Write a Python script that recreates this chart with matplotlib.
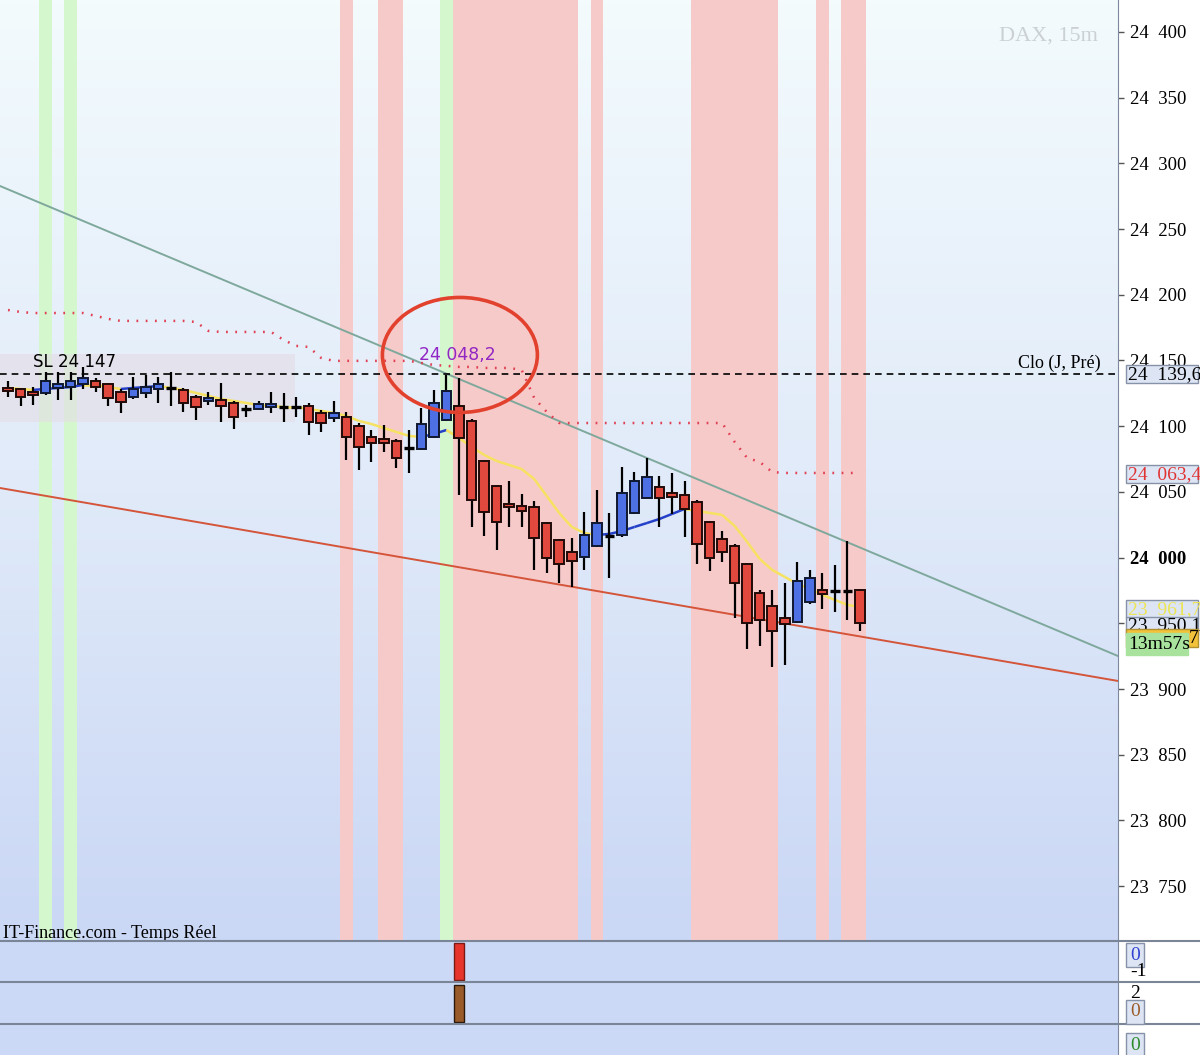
#DAX 15m candles with trend lines, signal bands and small indicator panels
import numpy as np
import matplotlib.pyplot as plt
from matplotlib.patches import Ellipse, Rectangle
from matplotlib.collections import LineCollection
from matplotlib.colors import LinearSegmentedColormap
from matplotlib.transforms import blended_transform_factory

#candle values (15m bars)
opens = [24129, 24128, 24126, 24125, 24129, 24130, 24132, 24134, 24132, 24126,
         24122, 24125, 24128, 24129, 24127.6, 24122, 24119, 24120, 24117.7, 24113,
         24113, 24114.6, 24114.6, 24114.6, 24115.4, 24110, 24106, 24107, 24100, 24092,
         24090, 24089, 24083.4, 24083, 24092, 24104.7, 24115.4, 24104, 24073.5, 24054.5,
         24041, 24039, 24038.5, 24026, 24013.4, 24004, 24000.5, 24009, 24016.4, 24017,
         24034, 24045.4, 24053.7, 24049, 24047.6, 24042.3, 24027, 24014, 24009, 23995,
         23973, 23963, 23954, 23951, 23966, 23975.5, 23974.7, 23974.7, 23975.5]
highs = [24134, 24129, 24130, 24141, 24141, 24141, 24145, 24137, 24133, 24128,
         24137.5, 24139, 24137.5, 24141, 24129, 24124, 24126, 24133, 24119, 24116,
         24119, 24126, 24125, 24122, 24117.7, 24112, 24119, 24111, 24102.4, 24097,
         24101, 24090, 24097, 24114, 24127.6, 24139, 24136.7, 24105.5, 24074, 24055,
         24058, 24048.4, 24043, 24027, 24014, 24014.6, 24034.7, 24051.4, 24034, 24068.8,
         24065, 24076, 24062, 24064.4, 24058.3, 24044, 24028, 24020, 24010, 23996,
         23975, 23975.5, 23981, 23997, 23990.8, 23988, 23994.5, 24012.8, 23976]
lows = [24122, 24115, 24116, 24124, 24120, 24120, 24128, 24126, 24115, 24110,
        24121, 24121.5, 24117.7, 24115, 24111, 24104.7, 24116, 24103, 24098, 24107,
        24112, 24110, 24103, 24107, 24093, 24095.6, 24103, 24074, 24066.7, 24073,
        24080, 24068, 24064, 24082, 24091, 24104, 24048, 24023, 24016.4, 24006,
        24023, 24023, 23990.6, 23988, 23980.7, 23977.5, 23990.6, 24008, 23984.5, 24016,
        24033, 24045, 24023, 24033, 24015.7, 23995, 23989.8, 23996.7, 23954, 23930.5,
        23933, 23917, 23918, 23950, 23964.7, 23961, 23958.6, 23952.5, 23944]
closes = [24127, 24122, 24124, 24134, 24132, 24134, 24137, 24130, 24121.5, 24118.5,
          24128, 24130, 24132, 24129, 24117.7, 24114.6, 24121.5, 24115.4, 24107, 24113,
          24117, 24117, 24114.6, 24114.6, 24103, 24102.4, 24110, 24092, 24084, 24087,
          24087, 24076, 24083.4, 24101.7, 24117.7, 24127, 24091, 24044, 24034.7, 24027,
          24038.5, 24035.5, 24015, 24000, 23995, 23997.5, 24017, 24026.3, 24016.4, 24049,
          24058.3, 24061.4, 24045.4, 24046, 24037, 24010.4, 24000, 24004, 23981, 23950,
          23952.5, 23944, 23949.5, 23982, 23984.5, 23972, 23974.7, 23974.7, 23950.1]

#moving average (yellow when falling, blue when rising)
ma = [24129.1, 24128.3, 24127.6, 24128.3, 24129.1, 24129.8, 24131.4, 24131.4, 24129.8, 24128.3,
      24129.1, 24129.8, 24130.6, 24129.1, 24127.6, 24125.3, 24123.0, 24120.7, 24119.2, 24117.7,
      24116.1, 24115.4, 24114.6, 24114.6, 24113.1, 24111.6, 24110.1, 24107.8, 24104.0, 24101.7,
      24098.6, 24095.6, 24092.6, 24091.8, 24094.1, 24097.1, 24091.0, 24084.2, 24078.1, 24073.5,
      24070.5, 24067.4, 24059.8, 24046.9, 24033.9, 24023.3, 24018.7, 24017.2, 24018.0, 24020.2,
      24023.3, 24026.3, 24029.4, 24033.2, 24037.0, 24035.5, 24034.0, 24032.5, 24024.1, 24011.9,
      23999.0, 23990.6, 23985.3, 23980.0, 23976.2, 23971.6, 23967.8, 23964.0, 23962.5]

#trailing stop (red dotted)
stop = [24188.4, 24186.9, 24186.1, 24186.1, 24186.1, 24186.1, 24186.1, 24183.9, 24181.6, 24180.1,
        24180.1, 24180.1, 24180.1, 24180.1, 24180.1, 24179.3, 24172.5, 24171.7, 24171.7, 24171.7,
        24171.7, 24171.7, 24165.6, 24161.1, 24160.3, 24151.9, 24149.7, 24149.7, 24149.7, 24149.7,
        24149.7, 24149.7, 24149.7, 24148.1, 24146.6, 24145.9, 24145.1, 24145.1, 24144.3, 24144.3,
        24144.3, 24142.8, 24121.5, 24110.8, 24102.4, 24102.4, 24102.4, 24102.4, 24102.4, 24102.4,
        24102.4, 24102.4, 24102.4, 24102.4, 24102.4, 24102.4, 24102.4, 24102.4, 24088.0, 24075.8,
        24072.8, 24065.1, 24064.4, 24064.4, 24064.4, 24064.4, 24064.4, 24064.4, 24064.4]

green_bars = [3, 5, 35]
red_bars = [27, 30, 31] + list(range(36, 46)) + [47] + list(range(55, 62)) + [65, 67, 68]

#trend lines: (bar index, price) anchors
upper_trend = [(0, 24280.2), (88, 23927.5)]
lower_trend = [(0, 24051.9), (88, 23907.1)]

prev_close = 24139.6
sl_zone = (24103.2, 24154.6)
sl_zone_end = 22.9
price_ticks = [23750, 23800, 23850, 23900, 23950, 24000, 24050, 24100, 24150,
               24200, 24250, 24300, 24350, 24400]

signal1 = [0]*69
signal1[36] = 1
signal2 = [0]*69
signal2[36] = 1

n = len(opens)
x = np.arange(n)
SERIF = 'Liberation Serif'

fig = plt.figure(figsize=(12, 10.55), dpi=100)
W, H = 1200, 1055
ax = fig.add_axes([0, 115/H, 1118/W, 940/H])
ax1 = fig.add_axes([0, 73/H, 1118/W, 41/H], sharex=ax)
ax2 = fig.add_axes([0, 31/H, 1118/W, 41/H], sharex=ax)
ax3 = fig.add_axes([0, 0, 1118/W, 30/H], sharex=ax)

ax.set_xlim(-0.64, 88.6)
ax.set_ylim(23709, 24424.3)

#background gradient
grad = np.linspace(0, 1, 256).reshape(-1, 1)
cm = LinearSegmentedColormap.from_list('bg', ['#f3fbfd', '#e1ebf9', '#cad7f5'])
ax.imshow(grad, extent=[0, 1, 0, 1], transform=ax.transAxes, aspect='auto',
          cmap=cm, origin='upper', zorder=0)

for i in green_bars:
    ax.axvspan(i-0.5, i+0.5, color='#d5f7cd', lw=0, zorder=1)
for i in red_bars:
    ax.axvspan(i-0.5, i+0.5, color='#f7caca', lw=0, zorder=1)

#SL zone
ax.add_patch(Rectangle((-0.64, sl_zone[0]), sl_zone_end+0.64, sl_zone[1]-sl_zone[0],
                       facecolor='#e4dde6', alpha=0.6, lw=0, zorder=1.5))
ax.text(2.0, 24148.9, 'SL 24 147', fontsize=12, va='center', ha='left', zorder=6)

#trend lines
ax.axline(upper_trend[0], upper_trend[1], color='#7fa89c', lw=1.4, zorder=3)
ax.axline(lower_trend[0], lower_trend[1], color='#d4553a', lw=1.4, zorder=3)

#trailing stop
ax.plot(x, stop, color='#e04052', lw=1.8, ls=(0, (0.7, 3.0)), zorder=3)

#previous close
ax.axhline(prev_close, color='black', lw=1.2, ls=(0, (4, 3)), zorder=3)

#moving average
pts = np.column_stack([x, ma])
segs = np.stack([pts[:-1], pts[1:]], axis=1)
cols = ['#2440c8' if ma[i+1] > ma[i] else '#f6e260' for i in range(n-1)]
ax.add_collection(LineCollection(segs, colors=cols, linewidths=1.8, zorder=4))

#candles
o = np.array(opens); c = np.array(closes)
ax.vlines(x, lows, highs, color='black', lw=1.6, zorder=5)
up = c - o > 0.5
dn = o - c > 0.5
doji = ~(up | dn)
ax.bar(x[up], (c-o)[up], bottom=o[up], width=0.76, color='#4d70e4',
       edgecolor='#101830', lw=1.4, zorder=6)
ax.bar(x[dn], (c-o)[dn], bottom=o[dn], width=0.76, color='#e1483e',
       edgecolor='#200a08', lw=1.4, zorder=6)
ax.hlines(o[doji], x[doji]-0.38, x[doji]+0.38, color='black', lw=2.4, zorder=6)

#circled top
ax.add_patch(Ellipse((36.07, 24154.2), 12.37, 87.5, fill=False,
                     edgecolor='#e2412e', lw=2.6, zorder=7))
ax.text(35.9, 24154.2, '24 048,2', color='#9226c4', fontsize=12.5,
        ha='center', va='center', zorder=7)

ax.text(0.938, 0.962, 'DAX, 15m', transform=ax.transAxes, fontsize=16,
        family=SERIF, color='#cbd0d4', ha='center', va='center')
ax.text(0.003, -0.002, 'IT-Finance.com - Temps Réel', transform=ax.transAxes,
        fontsize=13, family=SERIF, ha='left', va='bottom', zorder=8)

bt = blended_transform_factory(ax.transAxes, ax.transData)
ax.text(1018/1118, prev_close + 8.5, 'Clo (J, Pré)', fontsize=13, family=SERIF,
        ha='left', va='center', zorder=8, transform=bt)

#right price axis
for s in ['top', 'left', 'bottom']:
    ax.spines[s].set_visible(False)
ax.spines['right'].set_color('#7d889c')
ax.yaxis.tick_right()
labels = ['%d  %03d' % (v // 1000, v % 1000) for v in price_ticks]
ax.set_yticks(price_ticks, labels=labels)
ax.tick_params(axis='y', length=4, width=1, color='#555555', pad=5,
               labelsize=13.5, labelfontfamily=SERIF)
ax.get_yticklabels()[price_ticks.index(24000)].set_fontweight('bold')
ax.tick_params(axis='x', bottom=False, labelbottom=False)

#value boxes on the price axis
def value_box(value, text, color='black', face='#dde5f4', edge='#8592a8',
              left=1126, right=1198, h=18, z=9):
    x0 = left/1118
    w = (right - left)/1118
    hh = h*0.761
    ax.add_patch(Rectangle((x0, value - hh/2), w, hh, transform=bt, facecolor=face,
                           edgecolor=edge, lw=1, zorder=z, clip_on=False))
    ax.text(x0 + 2/1118, value, text, transform=bt, fontsize=14, family=SERIF,
            color=color, va='center', ha='left', zorder=z+0.5, clip_on=False)

value_box(prev_close, '24  139,6')
value_box(stop[-1] - 1, '24  063,4', color='#e03434')
value_box(ma[-1] - 2, '23  961,7', color='#ece455')
value_box(closes[-1] - 2, '23  950,1', z=10)
value_box(23938.5, '', face='#f2c23a', edge='#b09030', z=11)
ax.text(1189/1118, 23938.5, '7', transform=bt, fontsize=14, family=SERIF,
        va='center', ha='left', zorder=12, clip_on=False)
value_box(23934, '13m57s', face='#a8e29c', edge='#a8e29c', right=1188, h=22, z=13)

#indicator panels
for a, sig, col, ec in [(ax1, signal1, '#e8352c', '#7a1a14'),
                        (ax2, signal2, '#9a5b2a', '#2a1808'),
                        (ax3, [0]*n, '#6cae6c', '#335533')]:
    a.set_facecolor('#cbd9f6')
    sig = np.array(sig)
    on = sig != 0
    if on.any():
        a.bar(x[on], sig[on], width=0.8, color=col, edgecolor=ec, lw=1)
    a.set_ylim(-0.05, 1.05)
    a.set_xticks([]); a.set_yticks([])
    for s in a.spines.values():
        s.set_visible(False)
    a.spines['right'].set_visible(True)
    a.spines['right'].set_color('#7d889c')

#panel separators across full width
for yp in [941, 982, 1024]:
    fig.add_artist(plt.Line2D([0, 1], [1 - yp/H]*2, color='#7a8598', lw=1.5))

ptext = dict(fontsize=14, family=SERIF, ha='left', va='center')
pbox = dict(boxstyle='square,pad=0.2', facecolor='#dde5f4', edgecolor='#8592a8', lw=1)
fig.text(1130/W, 1 - 955/H, '0', color='#3040d0', bbox=pbox, **ptext)
fig.text(1130/W, 1 - 972/H, '-1', **ptext)
fig.text(1130/W, 1 - 993/H, '2', **ptext)
fig.text(1130/W, 1 - 1012/H, '0', color='#9a5b2a', bbox=pbox, **ptext)
fig.text(1130/W, 1 - 1045/H, '0', color='#2a8a2a', bbox=pbox, **ptext)

fig.savefig('out.png', dpi=100)
